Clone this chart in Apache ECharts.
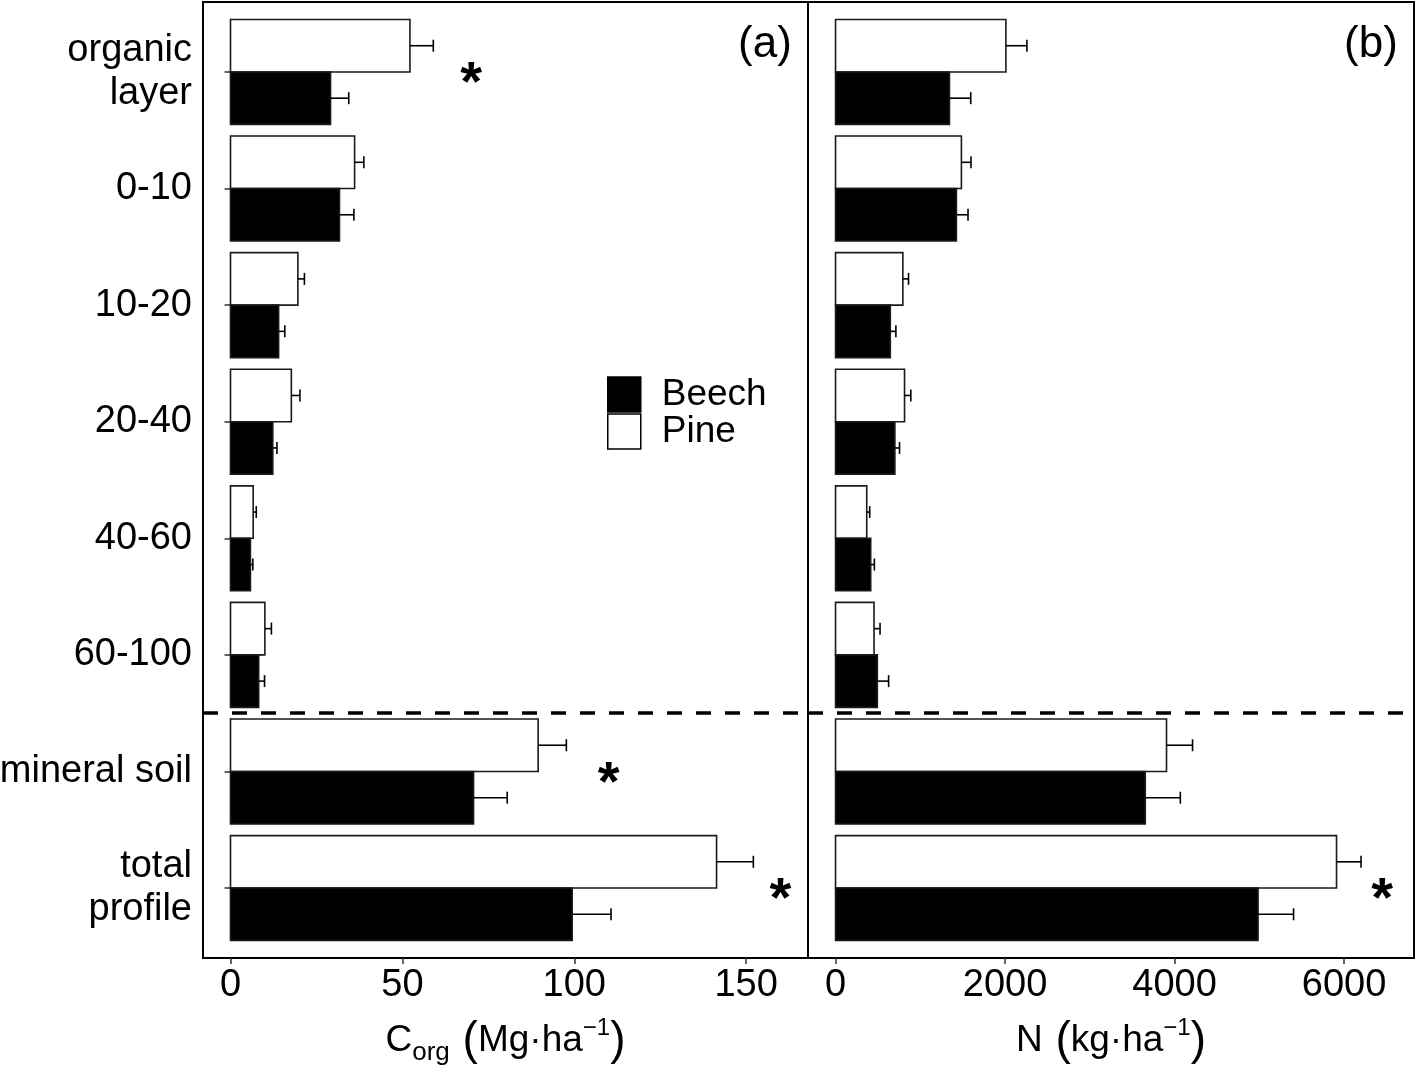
<!DOCTYPE html>
<html><head><meta charset="utf-8">
<script src="https://cdn.jsdelivr.net/npm/echarts@6/dist/echarts.min.js"></script>
<style>html,body{margin:0;padding:0;background:#fff}#c{width:1418px;height:1065px}</style>
</head><body><div id="c"></div>
<script>
const categories = ['organic\nlayer','0-10','10-20','20-40','40-60','60-100','mineral soil','total\nprofile'];
const corgBeech   = [29.1, 31.7, 14.0, 12.3, 5.8, 8.2, 70.7, 99.4];
const corgBeechSE = [5.3, 4.2, 1.8, 1.2, 0.7, 1.7, 9.8, 11.3];
const corgPine    = [52.2, 36.1, 19.6, 17.7, 6.6, 10.0, 89.5, 141.4];
const corgPineSE  = [6.8, 2.7, 1.9, 2.5, 0.9, 1.9, 8.2, 10.7];
const nBeech   = [1344, 1426, 646, 700, 415, 493, 3654, 4985];
const nBeechSE = [251, 137, 66, 55, 43, 133, 414, 419];
const nPine    = [2010, 1485, 794, 814, 368, 454, 3905, 5911];
const nPineSE  = [248, 113, 67, 74, 35, 71, 307, 289];
const corgTicks = [0, 50, 100, 150];
const nTicks = [0, 2000, 4000, 6000];
const corgSignif = [[70, 1], [110, 7], [160, 8]];
const nSignif = [[6450, 8]];
const separatorAt = 6.5;

const FF = 'Liberation Sans, Arial, sans-serif';
const catPos = categories.map((c, i) => i + 1);

function barRenderer(y0, y1, fill) {
  return function (params, api) {
    const cat = api.value(0), v = api.value(1), se = api.value(2);
    const a = api.coord([0, cat + y0]);
    const b = api.coord([v, cat + y1]);
    const ym = cat + (y0 + y1) / 2;
    const m = api.coord([v, ym]);
    const e = api.coord([v + se, ym]);
    const cap = 6;
    return {
      type: 'group', children: [
        { type: 'rect', shape: { x: a[0], y: Math.min(a[1], b[1]), width: b[0] - a[0], height: Math.abs(b[1] - a[1]) },
          style: { fill: fill, stroke: '#1a1a1a', lineWidth: 1.6 } },
        { type: 'line', shape: { x1: m[0], y1: m[1], x2: e[0], y2: e[1] }, style: { stroke: '#000', lineWidth: 1.6 } },
        { type: 'line', shape: { x1: e[0], y1: e[1] - cap, x2: e[0], y2: e[1] + cap }, style: { stroke: '#000', lineWidth: 1.6 } }
      ]
    };
  };
}
function starRenderer(params, api) {
  const p = api.coord([api.value(0), api.value(1)]);
  const fs = 56;
  return { type: 'text', x: p[0], y: p[1] + 0.23 * fs,
    style: { text: '*', fontSize: fs, fontWeight: 'bold', fontFamily: FF, fill: '#000', align: 'center', verticalAlign: 'middle', textAlign: 'center', textVerticalAlign: 'middle' } };
}
function mk(vals, ses) { return vals.map((v, i) => [catPos[i], v, ses[i]]); }

const sepLine = { silent: true, symbol: ['none', 'none'], label: { show: false },
  lineStyle: { type: [15, 14], width: 3.5, color: '#000' }, data: [{ yAxis: separatorAt }] };

const rich = {
  t: { fontSize: 37, fontFamily: FF, color: '#000' },
  p: { fontSize: 46, lineHeight: 50, fontFamily: FF, color: '#000' },
  sub: { fontSize: 26, lineHeight: 38, verticalAlign: 'bottom', fontFamily: FF, color: '#000' },
  sup: { fontSize: 24, lineHeight: 26, verticalAlign: 'top', fontFamily: FF, color: '#000' }
};

function xAxis(idx, min, max, ticks, name) {
  return {
    gridIndex: idx, type: 'value', min: min, max: max,
    axisLine: { show: false }, splitLine: { show: false },
    axisTick: { show: true, customValues: ticks, length: 6, lineStyle: { color: '#333', width: 1.5 } },
    axisLabel: { customValues: ticks, formatter: v => String(v), fontSize: 38, margin: 9, color: '#000', fontFamily: FF },
    name: name, nameLocation: 'middle', nameGap: 58,
    nameTextStyle: { rich: rich, fontFamily: FF, color: '#000' }
  };
}

const option = {
  animation: false,
  backgroundColor: '#fff',
  grid: [
    { left: 203, top: 2, width: 605, height: 956, outerBoundsMode: 'none', containLabel: false, show: true, borderColor: '#000', borderWidth: 2, backgroundColor: 'transparent' },
    { left: 808, top: 2, width: 606, height: 956, outerBoundsMode: 'none', containLabel: false, show: true, borderColor: '#000', borderWidth: 2, backgroundColor: 'transparent' }
  ],
  xAxis: [
    xAxis(0, -8, 168, corgTicks, '{t|C}{sub|org}{p| (}{t|Mg·ha}{sup|−1}{p|)}'),
    xAxis(1, -325, 6825, nTicks, '{t|N}{p| (}{t|kg·ha}{sup|−1}{p|)}')
  ],
  yAxis: [
    { gridIndex: 0, type: 'value', inverse: true, min: 0.4, max: 8.6,
      axisLine: { show: false }, splitLine: { show: false },
      axisTick: { show: true, customValues: catPos, length: 6, lineStyle: { color: '#333', width: 1.5 } },
      axisLabel: { customValues: catPos, formatter: v => categories[Math.round(v) - 1], fontSize: 38, lineHeight: 43,
        margin: 11, color: '#000', fontFamily: FF, align: 'right' },
      name: 'Soil depth (cm)', nameLocation: 'middle', nameRotate: 90, nameGap: 165,
      nameTextStyle: { fontSize: 38, color: '#000', fontFamily: FF } },
    { gridIndex: 1, type: 'value', inverse: true, min: 0.4, max: 8.6,
      axisLine: { show: false }, splitLine: { show: false }, axisTick: { show: false }, axisLabel: { show: false } }
  ],
  legend: {
    orient: 'vertical', left: 607, top: 376, itemWidth: 33, itemHeight: 35, itemGap: 0, padding: 0,
    icon: 'rect', selectedMode: false,
    data: [
      { name: 'Beech', itemStyle: { color: '#000', borderColor: '#000', borderWidth: 1.5 } },
      { name: 'Pine', itemStyle: { color: '#fff', borderColor: '#000', borderWidth: 1.5 } }
    ],
    textStyle: { fontSize: 37, color: '#000', fontFamily: FF, padding: [0, 0, 0, 16] }
  },
  graphic: [
    { type: 'text', x: 765, y: 45, style: { text: '(a)', fontSize: 44, fontFamily: FF, fill: '#000', align: 'center', verticalAlign: 'middle' } },
    { type: 'text', x: 1371, y: 45, style: { text: '(b)', fontSize: 44, fontFamily: FF, fill: '#000', align: 'center', verticalAlign: 'middle' } }
  ],
  series: [
    { name: 'Pine', type: 'custom', xAxisIndex: 0, yAxisIndex: 0, renderItem: barRenderer(-0.45, 0, '#fff'),
      itemStyle: { color: '#fff', borderColor: '#000' }, encode: { x: 1, y: 0 }, data: mk(corgPine, corgPineSE) },
    { name: 'Beech', type: 'custom', xAxisIndex: 0, yAxisIndex: 0, renderItem: barRenderer(0, 0.45, '#000'),
      itemStyle: { color: '#000' }, encode: { x: 1, y: 0 }, data: mk(corgBeech, corgBeechSE), markLine: sepLine },
    { name: 'Pine', type: 'custom', xAxisIndex: 1, yAxisIndex: 1, renderItem: barRenderer(-0.45, 0, '#fff'),
      itemStyle: { color: '#fff', borderColor: '#000' }, encode: { x: 1, y: 0 }, data: mk(nPine, nPineSE) },
    { name: 'Beech', type: 'custom', xAxisIndex: 1, yAxisIndex: 1, renderItem: barRenderer(0, 0.45, '#000'),
      itemStyle: { color: '#000' }, encode: { x: 1, y: 0 }, data: mk(nBeech, nBeechSE), markLine: sepLine },
    { name: 'sigA', type: 'custom', xAxisIndex: 0, yAxisIndex: 0, renderItem: starRenderer, encode: { x: 0, y: 1 }, data: corgSignif },
    { name: 'sigB', type: 'custom', xAxisIndex: 1, yAxisIndex: 1, renderItem: starRenderer, encode: { x: 0, y: 1 }, data: nSignif }
  ]
};
const chart = echarts.init(document.getElementById('c'), null, { renderer: 'canvas' });
chart.setOption(option);
</script></body></html>
